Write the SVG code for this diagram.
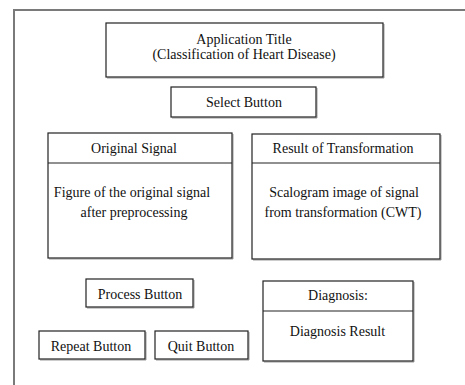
<svg xmlns="http://www.w3.org/2000/svg" width="465" height="385" viewBox="0 0 465 385">
  <style>
    .box { fill: #ffffff; stroke: #222222; stroke-width: 1.2; }
    .shadow { fill: none; stroke: #9a9a9a; stroke-width: 1; }
    .div { stroke: #222222; stroke-width: 1.2; }
    .frame { fill: none; stroke: #7a7a7a; stroke-width: 2; }
    .lbl { font-size: 14px; fill: #111111; text-anchor: middle; }
  </style>
  <rect width="465" height="385" fill="#ffffff"/>

  <!-- window frame: top and left edges -->
  <path class="frame" d="M14 385 V10 H465"/>

  <g font-family="'Liberation Serif', 'DejaVu Serif', serif">
  <g id="title">
    <path class="shadow" d="M384 24 V78 H107"/>
    <rect class="box" x="106" y="23" width="277" height="54"/>
    <text class="lbl" x="244" y="44">Application Title</text>
    <text class="lbl" x="244" y="59">(Classification of Heart Disease)</text>
  </g>

  <g id="select-button">
    <path class="shadow" d="M317 88 V118 H172"/>
    <rect class="box" x="171" y="87" width="145" height="30"/>
    <text class="lbl" x="244" y="107">Select Button</text>
  </g>

  <g id="original-signal">
    <path class="shadow" d="M233 134 V259 H49"/>
    <rect class="box" x="48" y="133" width="184" height="125"/>
    <line class="div" x1="48" y1="163" x2="232" y2="163"/>
    <text class="lbl" x="134" y="153">Original Signal</text>
    <text class="lbl" x="132" y="197">Figure of the original signal</text>
    <text class="lbl" x="134" y="217">after preprocessing</text>
  </g>

  <g id="transformation-result">
    <path class="shadow" d="M441 135 V260 H253"/>
    <rect class="box" x="252" y="134" width="188" height="125"/>
    <line class="div" x1="252" y1="163" x2="440" y2="163"/>
    <text class="lbl" x="343" y="153">Result of Transformation</text>
    <text class="lbl" x="344" y="197">Scalogram image of signal</text>
    <text class="lbl" x="343" y="217">from transformation (CWT)</text>
  </g>

  <g id="process-button">
    <path class="shadow" d="M194 280 V308 H87"/>
    <rect class="box" x="86" y="279" width="107" height="28"/>
    <text class="lbl" x="140" y="299">Process Button</text>
  </g>

  <g id="diagnosis">
    <path class="shadow" d="M414 282 V362 H264"/>
    <rect class="box" x="263" y="281" width="150" height="80"/>
    <line class="div" x1="263" y1="311" x2="413" y2="311"/>
    <text class="lbl" x="338" y="300">Diagnosis:</text>
    <text class="lbl" x="337.5" y="336">Diagnosis Result</text>
  </g>

  <g id="repeat-button">
    <path class="shadow" d="M146 332 V360 H40"/>
    <rect class="box" x="39" y="331" width="106" height="28"/>
    <text class="lbl" x="91" y="351">Repeat Button</text>
  </g>

  <g id="quit-button">
    <path class="shadow" d="M249 332 V360 H156"/>
    <rect class="box" x="155" y="331" width="93" height="28"/>
    <text class="lbl" x="201" y="351">Quit Button</text>
  </g>
  </g>

  <g id="connectors"></g>
</svg>
